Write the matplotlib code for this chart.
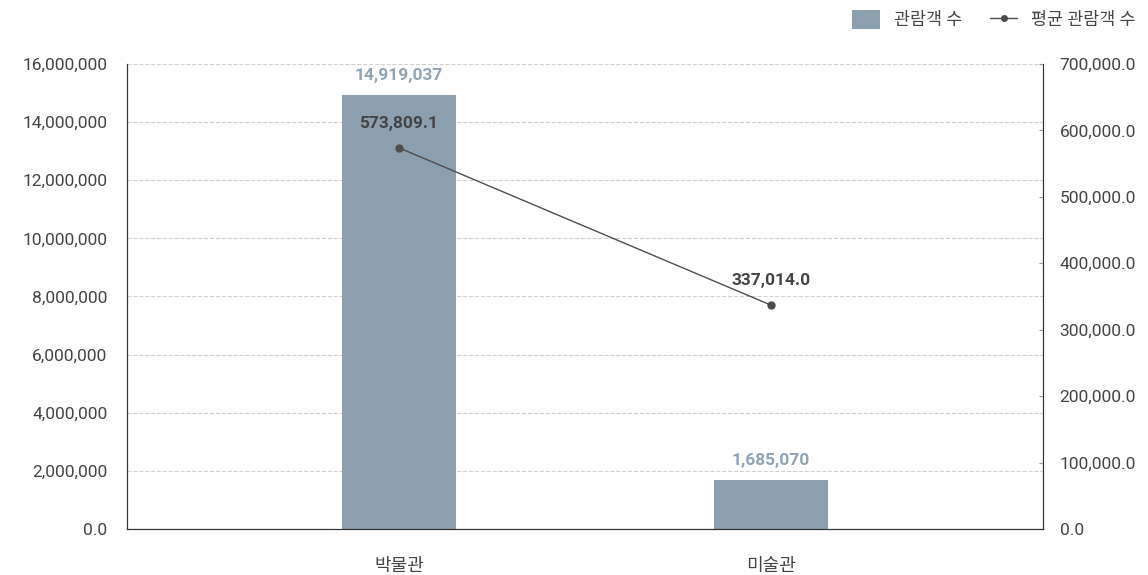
import matplotlib.pyplot as plt
from matplotlib.lines import Line2D
from matplotlib.patches import Patch

plt.rcParams['font.family'] = ['Roboto', 'Noto Sans CJK KR', 'DejaVu Sans']

categories = ['박물관', '미술관']
visitors = [14919037, 1685070]
avg_visitors = [573809.1, 337014.0]

bar_color = '#8c9fae'
label_color = '#8fa3b4'
line_color = '#4d4d4d'
text_color = '#444444'

fig = plt.figure(figsize=(11.48, 5.75), dpi=100)
ax = fig.add_axes([0.1106, 0.08, 0.7979, 0.8087])
ax2 = ax.twinx()

x = list(range(len(categories)))
ax.bar(x, visitors, width=0.306, color=bar_color, zorder=2)
for xi, v in zip(x, visitors):
    ax.annotate(f'{v:,}', (xi, v), xytext=(0, 9), textcoords='offset points',
                ha='center', va='bottom', fontsize=12.5, fontweight='bold',
                color=label_color,
                bbox=dict(facecolor='white', edgecolor='none', pad=1))

ax2.plot(x, avg_visitors, color=line_color, linewidth=1, marker='o',
         markersize=5, zorder=3)
for xi, v in zip(x, avg_visitors):
    ax2.annotate(f'{v:,.1f}', (xi, v), xytext=(0, 12), textcoords='offset points',
                 ha='center', va='bottom', fontsize=12.5, fontweight='bold',
                 color=text_color)

ax.set_xlim(-0.731, 1.731)
ax.set_ylim(0, 16000000)
ax2.set_ylim(0, 700000)
ax.set_xticks(x)
ax.set_xticklabels(categories, fontsize=13, color=text_color)
ax.set_yticks(range(0, 16000001, 2000000))
ax.set_yticklabels(['0.0'] + [f'{v:,}' for v in range(2000000, 16000001, 2000000)])
ax2.set_yticks(range(0, 700001, 100000))
ax2.set_yticklabels([f'{v:,.1f}' for v in range(0, 700001, 100000)])

ax.yaxis.grid(True, linestyle='--', color='#d0d0d0', linewidth=0.8, zorder=0)
ax.set_axisbelow(True)
for a in (ax, ax2):
    a.spines['top'].set_visible(False)
    a.spines['left'].set_color('#333333')
    a.spines['right'].set_color('#333333')
    a.spines['bottom'].set_color('#333333')
ax.tick_params(axis='y', length=0, pad=14, labelsize=12.5, labelcolor=text_color)
ax.tick_params(axis='x', length=0, pad=20)
ax2.tick_params(axis='y', direction='in', length=3, pad=12, labelsize=12.5,
                labelcolor=text_color, color='#999999')
ax2.set_zorder(ax.get_zorder() + 1)
ax2.patch.set_visible(False)

handles = [Patch(facecolor=bar_color, edgecolor='none'),
           Line2D([0], [0], color=line_color, linewidth=1, marker='o', markersize=4)]
fig.legend(handles, ['관람객 수', '평균 관람객 수'], loc='upper right',
           bbox_to_anchor=(1.003, 1.01), ncol=2, frameon=False, fontsize=12.5,
           handlelength=1.6, handleheight=1.3, columnspacing=1.6,
           labelcolor=text_color)

fig.savefig('out.png', dpi=100)
